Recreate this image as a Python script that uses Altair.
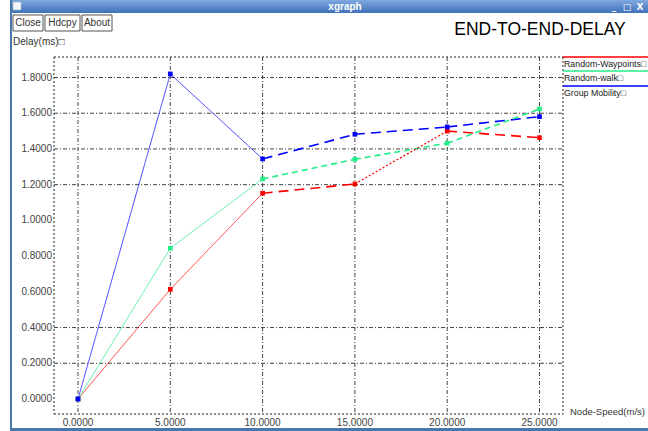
import altair as alt
import pandas as pd

# ---- data ---------------------------------------------------------------
speeds = [0, 5, 10, 15, 20, 25]
series_names = ["Random-Waypoints", "Random-walk", "Group Mobility"]
waypoint_delay = [0.0, 0.614, 1.152, 1.204, 1.500, 1.463]
walk_delay = [0.0, 0.844, 1.232, 1.342, 1.432, 1.624]
group_delay = [0.0, 1.820, 1.344, 1.482, 1.523, 1.581]
series_colors = ["#ff0000", "#22ee88", "#0000ff"]

x_ticks = [0, 5, 10, 15, 20, 25]
x_tick_labels = ["0.0000", "5.0000", "10.0000", "15.0000", "20.0000", "25.0000"]
y_ticks = [0.0, 0.2, 0.4, 0.6, 0.8, 1.0, 1.2, 1.4, 1.6, 1.8]
y_tick_labels = ["0.0000", "0.2000", "0.4000", "0.6000", "0.8000",
                 "1.0000", "1.2000", "1.4000", "1.6000", "1.8000"]
y_grid = [0.2, 0.4, 1.2, 1.4, 1.6, 1.8]

W, H = 648, 431
PL, PR, PT, PB = 54, 563, 57, 414  # plot frame in pixels
FONT = "Liberation Sans"

xs = alt.Scale(domain=[0, 25], range=[78, 539.5])
ys = alt.Scale(domain=[0, 1.8], range=[399, 77.5])
X = lambda f: alt.X(f, type="quantitative", scale=xs, axis=None)
Y = lambda f: alt.Y(f, type="quantitative", scale=ys, axis=None)

# points table
rows = []
for name, vals in zip(series_names, [waypoint_delay, walk_delay, group_delay]):
    for s, v in zip(speeds, vals):
        rows.append({"series": name, "speed": s, "delay": v})
points = pd.DataFrame(rows)

# segment table (first two legs drawn thin/solid, later legs dashed)
seg_rows = []
for name, vals in zip(series_names, [waypoint_delay, walk_delay, group_delay]):
    for i in range(len(speeds) - 1):
        style = "solid" if i < 2 else "dash"
        if name == "Random-walk" and i >= 2:
            style = "short"
        if name == "Random-Waypoints" and i == 3:
            style = "dot"
        seg_rows.append({"series": name, "x0": speeds[i], "x1": speeds[i + 1],
                         "y0": vals[i], "y1": vals[i + 1], "style": style})
segs = pd.DataFrame(seg_rows)

color = alt.Color("series:N", scale=alt.Scale(domain=series_names, range=series_colors), legend=None)

def seg_layer(style, width, dash, opacity=1.0):
    return alt.Chart(segs).transform_filter(alt.datum.style == style).mark_rule(
        strokeWidth=width, strokeDash=dash, opacity=opacity
    ).encode(x=X("x0"), x2="x1", y=Y("y0"), y2="y1", color=color)

lines = (seg_layer("solid", 1, [1, 0], 0.75) + seg_layer("dash", 1.6, [10, 6])
         + seg_layer("short", 1.6, [6, 4]) + seg_layer("dot", 1.2, [2, 2]))

marks = alt.Chart(points).mark_square(size=22, opacity=1).encode(
    x=X("speed"), y=Y("delay"), color=color)

# ---- grid and frame -----------------------------------------------------
xgrid_df = pd.DataFrame({"v": x_ticks, "lab": x_tick_labels})
ygrid_df = pd.DataFrame({"v": y_grid})
ylab_df = pd.DataFrame({"v": y_ticks, "lab": y_tick_labels})

vgrid = alt.Chart(xgrid_df).mark_rule(color="#444", strokeWidth=1, strokeDash=[4, 2, 1, 2]).encode(
    x=X("v"), y=alt.value(PT), y2=alt.value(PB))
hgrid = alt.Chart(ygrid_df).mark_rule(color="#444", strokeWidth=1, strokeDash=[4, 2, 1, 2]).encode(
    y=Y("v"), x=alt.value(PL), x2=alt.value(PR))

frame_df = pd.DataFrame({"x": [PL, PL, PR, PL], "x2": [PR, PL, PR, PR],
                         "y": [PT, PT, PT, PB], "y2": [PT, PB, PB, PB]})
frame = alt.Chart(frame_df).mark_rule(color="#222", strokeWidth=1, strokeDash=[2, 2]).encode(
    x=alt.X("x:Q", scale=None), x2="x2:Q", y=alt.Y("y:Q", scale=None), y2="y2:Q")

xlabels = alt.Chart(xgrid_df).mark_text(fontSize=10, font=FONT, color="#444", baseline="middle").encode(
    x=X("v"), y=alt.value(423), text="lab:N")
ylabels = alt.Chart(ylab_df).mark_text(fontSize=10, font=FONT, color="#444", align="right",
                                       baseline="middle").encode(
    y=Y("v"), x=alt.value(52), text="lab:N")

# ---- legend on the right ------------------------------------------------
leg_df = pd.DataFrame({"series": series_names, "label": [n + "□" for n in series_names],
                       "ly": [57, 71, 86], "ty": [64, 78, 93]})
leg_lines = alt.Chart(leg_df).mark_rule(strokeWidth=1.5).encode(
    y=alt.Y("ly:Q", scale=None), x=alt.value(PR), x2=alt.value(W), color=color)
leg_text = alt.Chart(leg_df).mark_text(fontSize=8.8, font=FONT, color="#222", align="left",
                                       baseline="middle").encode(
    y=alt.Y("ty:Q", scale=None), x=alt.value(564), text="label:N")

# ---- window chrome ------------------------------------------------------
title_bar = alt.Chart(pd.DataFrame({"a": [0]})).mark_rect(
    color=alt.Gradient(gradient="linear", x1=0, x2=0, y1=0, y2=1,
                       stops=[alt.GradientStop(color="#80a8e0", offset=0),
                              alt.GradientStop(color="#3f72b8", offset=1)])
).encode(x=alt.value(10), x2=alt.value(W), y=alt.value(0), y2=alt.value(13))

border_df = pd.DataFrame({"x": [10, 10], "x2": [12, W], "y": [0, 428], "y2": [431, 431]})
border = alt.Chart(border_df).mark_rect(color="#4a78ac").encode(
    x=alt.X("x:Q", scale=None), x2="x2:Q", y=alt.Y("y:Q", scale=None), y2="y2:Q")

icon = alt.Chart(pd.DataFrame({"a": [0]})).mark_rect(color="#f4f6fa", stroke="#9ab", strokeWidth=0.5).encode(
    x=alt.value(13), x2=alt.value(21), y=alt.value(2), y2=alt.value(10))
win_title = alt.Chart(pd.DataFrame({"t": ["xgraph"]})).mark_text(
    fontSize=10, font=FONT, fontWeight="bold", color="white", baseline="middle").encode(
    x=alt.value(345), y=alt.value(7), text="t:N")
ctl_df = pd.DataFrame({"t": ["_", "□", "X"], "x": [614, 627, 640]})
controls = alt.Chart(ctl_df).mark_text(fontSize=9, font="DejaVu Sans", fontWeight="bold", color="white",
                                       baseline="middle").encode(
    x=alt.X("x:Q", scale=None), y=alt.value(7), text="t:N")

btn_df = pd.DataFrame({"t": ["Close", "Hdcpy", "About"], "x": [13, 45, 82], "x2": [43, 80, 112]})
btn_box = alt.Chart(btn_df).mark_rect(fill="white", stroke="#555", strokeWidth=1).encode(
    x=alt.X("x:Q", scale=None), x2="x2:Q", y=alt.value(15), y2=alt.value(31))
btn_txt = alt.Chart(btn_df).transform_calculate(cx="(datum.x + datum.x2) / 2").mark_text(
    fontSize=10, font=FONT, color="#333", baseline="middle").encode(
    x=alt.X("cx:Q", scale=None), y=alt.value(23), text="t:N")

texts_df = pd.DataFrame({"t": ["Delay(ms)□", "Node-Speed(m/s)"], "x": [13, 570], "y": [42, 412],
                         "fs": [10, 9.5]})
axis_titles = alt.Chart(texts_df).mark_text(font=FONT, color="#333", align="left",
                                            baseline="middle").encode(
    x=alt.X("x:Q", scale=None), y=alt.Y("y:Q", scale=None), text="t:N",
    size=alt.Size("fs:Q", scale=None, legend=None))

main_title = alt.Chart(pd.DataFrame({"t": ["END-TO-END-DELAY"]})).mark_text(
    fontSize=17.5, font=FONT, color="black", baseline="middle").encode(
    x=alt.value(540), y=alt.value(30), text="t:N")

chart = alt.layer(
    title_bar, border, icon, win_title, controls, btn_box, btn_txt, main_title, axis_titles,
    vgrid, hgrid, frame, xlabels, ylabels, lines, marks, leg_lines, leg_text
).properties(
    width=W, height=H, padding=0, autosize=alt.AutoSizeParams(type="none"), background="white"
).configure_view(stroke=None)

chart.save("out.html", embed_options={"renderer": "svg", "actions": False})
